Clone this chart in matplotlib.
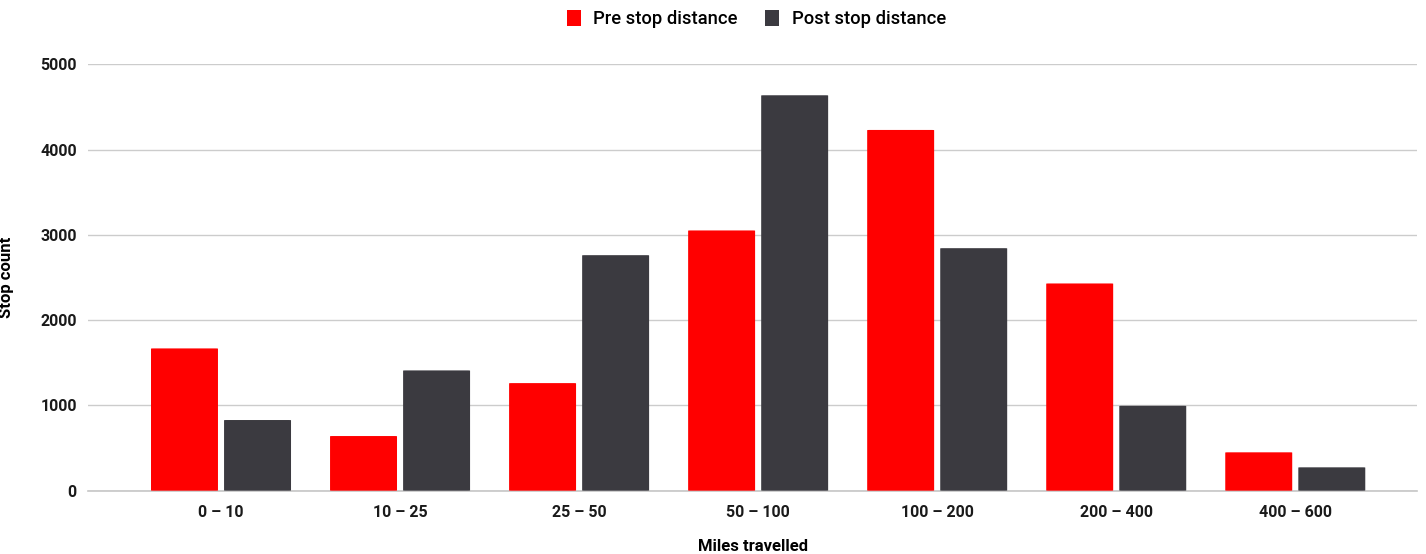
import matplotlib.pyplot as plt
from matplotlib.patches import FancyBboxPatch, Patch
import numpy as np

categories = ['0 – 10', '10 – 25', '25 – 50', '50 – 100', '100 – 200', '200 – 400', '400 – 600']
pre_stop = [1669, 641, 1262, 3053, 4232, 2431, 450]
post_stop = [829, 1411, 2763, 4639, 2845, 996, 274]
y_ticks = [0, 1000, 2000, 3000, 4000, 5000]

RED = '#ff0000'
DARK = '#3b3a40'

plt.rcParams['font.family'] = ['Roboto', 'DejaVu Sans']

fig = plt.figure(figsize=(14.26, 5.54), dpi=100)
ax = fig.add_axes([0.0617, 0.1143, 0.932, 0.7693])

x = np.arange(len(categories))
width = 0.374
offset = 0.204
bars_pre = ax.bar(x - offset, pre_stop, width, color=RED, zorder=3)
bars_post = ax.bar(x + offset, post_stop, width, color=DARK, zorder=3)

# slightly rounded bar corners
for rect in list(bars_pre) + list(bars_post):
    rect.set_visible(False)
    bx, by = rect.get_x(), rect.get_y()
    bw, bh = rect.get_width(), rect.get_height()
    ax.add_patch(FancyBboxPatch((bx, by), bw, bh,
                                boxstyle='round,pad=0,rounding_size=0.012',
                                mutation_aspect=5000 / 7.4 * 0.35,
                                facecolor=rect.get_facecolor(), edgecolor='none',
                                zorder=3))

ax.set_xlim(-0.743, 6.68)
ax.set_ylim(0, 5000)
ax.set_yticks(y_ticks)
ax.set_xticks(x)
ax.set_xticklabels(categories)
ax.grid(axis='y', color='#cccccc', linewidth=1, zorder=0)
ax.axhline(0, color='#c6c6c6', linewidth=1.2, zorder=2, clip_on=False)
ax.tick_params(axis='both', length=0, labelsize=11.5, labelcolor='#1a1a1a')
ax.tick_params(axis='x', pad=10)
ax.tick_params(axis='y', pad=8)
for lbl in ax.get_xticklabels() + ax.get_yticklabels():
    lbl.set_fontweight('semibold')
for s in ax.spines.values():
    s.set_visible(False)

ax.set_xlabel('Miles travelled', fontsize=12, fontweight='bold', labelpad=14)
ax.set_ylabel('Stop count', fontsize=12, fontweight='bold')
ax.yaxis.set_label_coords(-0.0555, 0.5)

handles = [Patch(facecolor=RED, label='Pre stop distance'),
           Patch(facecolor=DARK, label='Post stop distance')]
fig.legend(handles=handles, loc='upper center', bbox_to_anchor=(0.5305, 1.012), ncol=2,
           frameon=False, handlelength=0.75, handleheight=1.0, columnspacing=1.5,
           handletextpad=0.7, prop={'weight': 'medium', 'size': 13.2})

fig.savefig('out.png', dpi=100)
